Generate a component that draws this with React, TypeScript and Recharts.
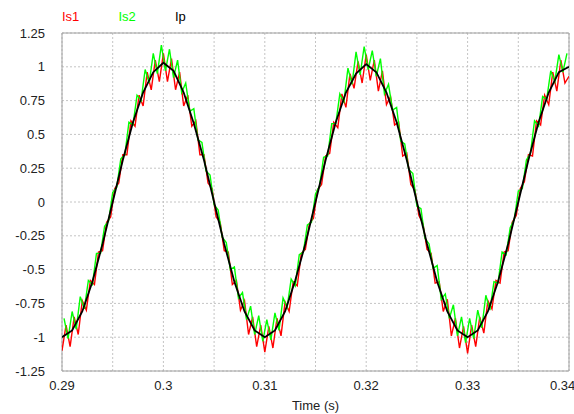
import { LineChart, Line, XAxis, YAxis, CartesianGrid, ReferenceArea } from 'recharts'

// sampling of the exported waveforms
const startTime = 0.29
const rippleStep = 0.0004 // Is1 / Is2 sample spacing (s)
const ipStep = 0.001 // Ip sample spacing (s)

// Is1 (A), samples from 0.29 s every 0.4 ms
const is1Values = [
  -1.10, -0.91, -1.07, -0.85, -0.98, -0.73, -0.80, -0.58, -0.61, -0.37, -0.36,
  -0.15, -0.11, 0.10, 0.14, 0.35, 0.35, 0.60, 0.56, 0.79, 0.71,
  0.96, 0.83, 1.05, 0.89, 1.10, 0.89, 1.06, 0.83, 0.96, 0.71,
  0.79, 0.56, 0.60, 0.35, 0.35, 0.14, 0.10, -0.11, -0.15, -0.36,
  -0.37, -0.61, -0.58, -0.80, -0.73, -0.98, -0.85, -1.07, -0.91, -1.11,
  -0.92, -1.08, -0.86, -0.99, -0.74, -0.81, -0.59, -0.62, -0.38, -0.35,
  -0.16, -0.12, 0.09, 0.13, 0.34, 0.36, 0.59, 0.55, 0.80, 0.70,
  0.95, 0.84, 1.04, 0.88, 1.09, 0.90, 1.05, 0.82, 0.97, 0.72,
  0.78, 0.57, 0.59, 0.34, 0.36, 0.13, 0.09, -0.10, -0.16, -0.35,
  -0.38, -0.60, -0.59, -0.81, -0.72, -0.99, -0.86, -1.08, -0.92, -1.12,
  -0.91, -1.07, -0.85, -0.97, -0.73, -0.79, -0.58, -0.60, -0.37, -0.36,
  -0.15, -0.10, 0.10, 0.15, 0.35, 0.34, 0.60, 0.57, 0.79, 0.72,
  0.96, 0.82, 1.05, 0.88, 0.93,
]

// Is2 (A), samples from 0.2902 s every 0.4 ms
const is2Values = [
  -0.86, -1.01, -0.81, -0.94, -0.70, -0.79, -0.58, -0.61, -0.38, -0.38,
  -0.18, -0.14, 0.07, 0.11, 0.32, 0.35, 0.59, 0.57, 0.79, 0.75,
  0.98, 0.88, 1.10, 0.95, 1.16, 0.97, 1.13, 0.92, 1.05, 0.81,
  0.88, 0.67, 0.69, 0.46, 0.44, 0.23, 0.20, -0.02, -0.06, -0.26,
  -0.30, -0.50, -0.48, -0.71, -0.67, -0.87, -0.77, -0.98, -0.84, -1.03,
  -0.87, -1.02, -0.82, -0.95, -0.71, -0.78, -0.57, -0.62, -0.39, -0.37,
  -0.17, -0.15, 0.06, 0.12, 0.33, 0.34, 0.58, 0.58, 0.80, 0.74,
  0.99, 0.87, 1.11, 0.94, 1.15, 0.98, 1.12, 0.93, 1.06, 0.80,
  0.87, 0.68, 0.70, 0.45, 0.43, 0.24, 0.21, -0.03, -0.05, -0.27,
  -0.31, -0.49, -0.47, -0.72, -0.68, -0.86, -0.76, -0.99, -0.85, -1.04,
  -0.86, -1.01, -0.80, -0.93, -0.69, -0.80, -0.59, -0.60, -0.37, -0.39,
  -0.19, -0.13, 0.08, 0.10, 0.31, 0.36, 0.60, 0.56, 0.78, 0.76,
  0.97, 0.89, 1.09, 0.96, 1.10,
]

// Ip (A), samples from 0.29 s every 1 ms
const ipValues = [
  -1.00, -0.95, -0.81, -0.59, -0.31, 0.00, 0.31, 0.59, 0.81, 0.96,
  1.03, 0.97, 0.81, 0.58, 0.31, 0.00, -0.31, -0.59, -0.81, -0.95,
  -1.00, -0.95, -0.81, -0.58, -0.31, 0.00, 0.31, 0.59, 0.81, 0.95,
  1.02, 0.96, 0.81, 0.59, 0.31, 0.00, -0.31, -0.59, -0.81, -0.95,
  -1.00, -0.95, -0.81, -0.59, -0.31, 0.00, 0.31, 0.59, 0.81, 0.96,
  1.00,
]

const xTicks = [0.29, 0.295, 0.3, 0.305, 0.31, 0.315, 0.32, 0.325, 0.33, 0.335, 0.34]
const yTicks = [-1.25, -1, -0.75, -0.5, -0.25, 0, 0.25, 0.5, 0.75, 1, 1.25]

const series = [
  { name: 'Is1', color: '#ff0000', width: 1.4 },
  { name: 'Is2', color: '#00ff00', width: 1.4 },
  { name: 'Ip', color: '#000000', width: 1.8 },
]

const toPoints = (values: number[], t0: number, step: number) =>
  values.map((v, i) => ({ t: Number((t0 + i * step).toFixed(5)), v }))

const is1Data = toPoints(is1Values, startTime, rippleStep)
const is2Data = toPoints(is2Values, startTime + rippleStep / 2, rippleStep)
const ipData = toPoints(ipValues, startTime, ipStep)

const font = '"Liberation Sans", Arial, sans-serif'
const tickStyle = { fill: '#222', fontSize: 13, fontFamily: font }

export default function App() {
  return (
    <div style={{ position: 'absolute', left: 0, top: 0, width: 574, height: 414, background: '#fff' }}>
      <svg width={574} height={30} style={{ position: 'absolute', left: 0, top: 0 }}>
        {series.map((s, i) => (
          <text key={s.name} x={62 + i * 56.5} y={21} fill={s.color} fontSize={13} fontFamily={font}>
            {s.name}
          </text>
        ))}
      </svg>
      <LineChart width={574} height={414} margin={{ top: 33, right: 5, bottom: 0, left: 0 }}>
        <CartesianGrid stroke="#c4c4c4" strokeDasharray="2 2" />
        <XAxis
          dataKey="t"
          type="number"
          domain={[0.29, 0.34]}
          ticks={xTicks}
          allowDataOverflow
          height={43}
          axisLine={false}
          tickLine={false}
          tickSize={0}
          tickMargin={10}
          tick={tickStyle}
          tickFormatter={(v: number, i: number) => (i % 2 === 0 ? String(v) : '')}
          label={{ value: 'Time (s)', position: 'insideBottom', offset: 4, fill: '#222', fontSize: 13, fontFamily: font }}
        />
        <YAxis
          type="number"
          domain={[-1.25, 1.25]}
          ticks={yTicks}
          allowDataOverflow
          width={62}
          axisLine={false}
          tickLine={false}
          tickSize={0}
          tickMargin={17}
          tick={tickStyle}
        />
        <ReferenceArea x1={0.29} x2={0.34} y1={-1.25} y2={1.25} fill="none" stroke="#a0a0a0" strokeWidth={1} />
        <Line data={is1Data} dataKey="v" name="Is1" type="linear" stroke={series[0].color} strokeWidth={series[0].width} dot={false} isAnimationActive={false} />
        <Line data={is2Data} dataKey="v" name="Is2" type="linear" stroke={series[1].color} strokeWidth={series[1].width} dot={false} isAnimationActive={false} />
        <Line data={ipData} dataKey="v" name="Ip" type="linear" stroke={series[2].color} strokeWidth={series[2].width} dot={false} isAnimationActive={false} />
      </LineChart>
    </div>
  )
}
